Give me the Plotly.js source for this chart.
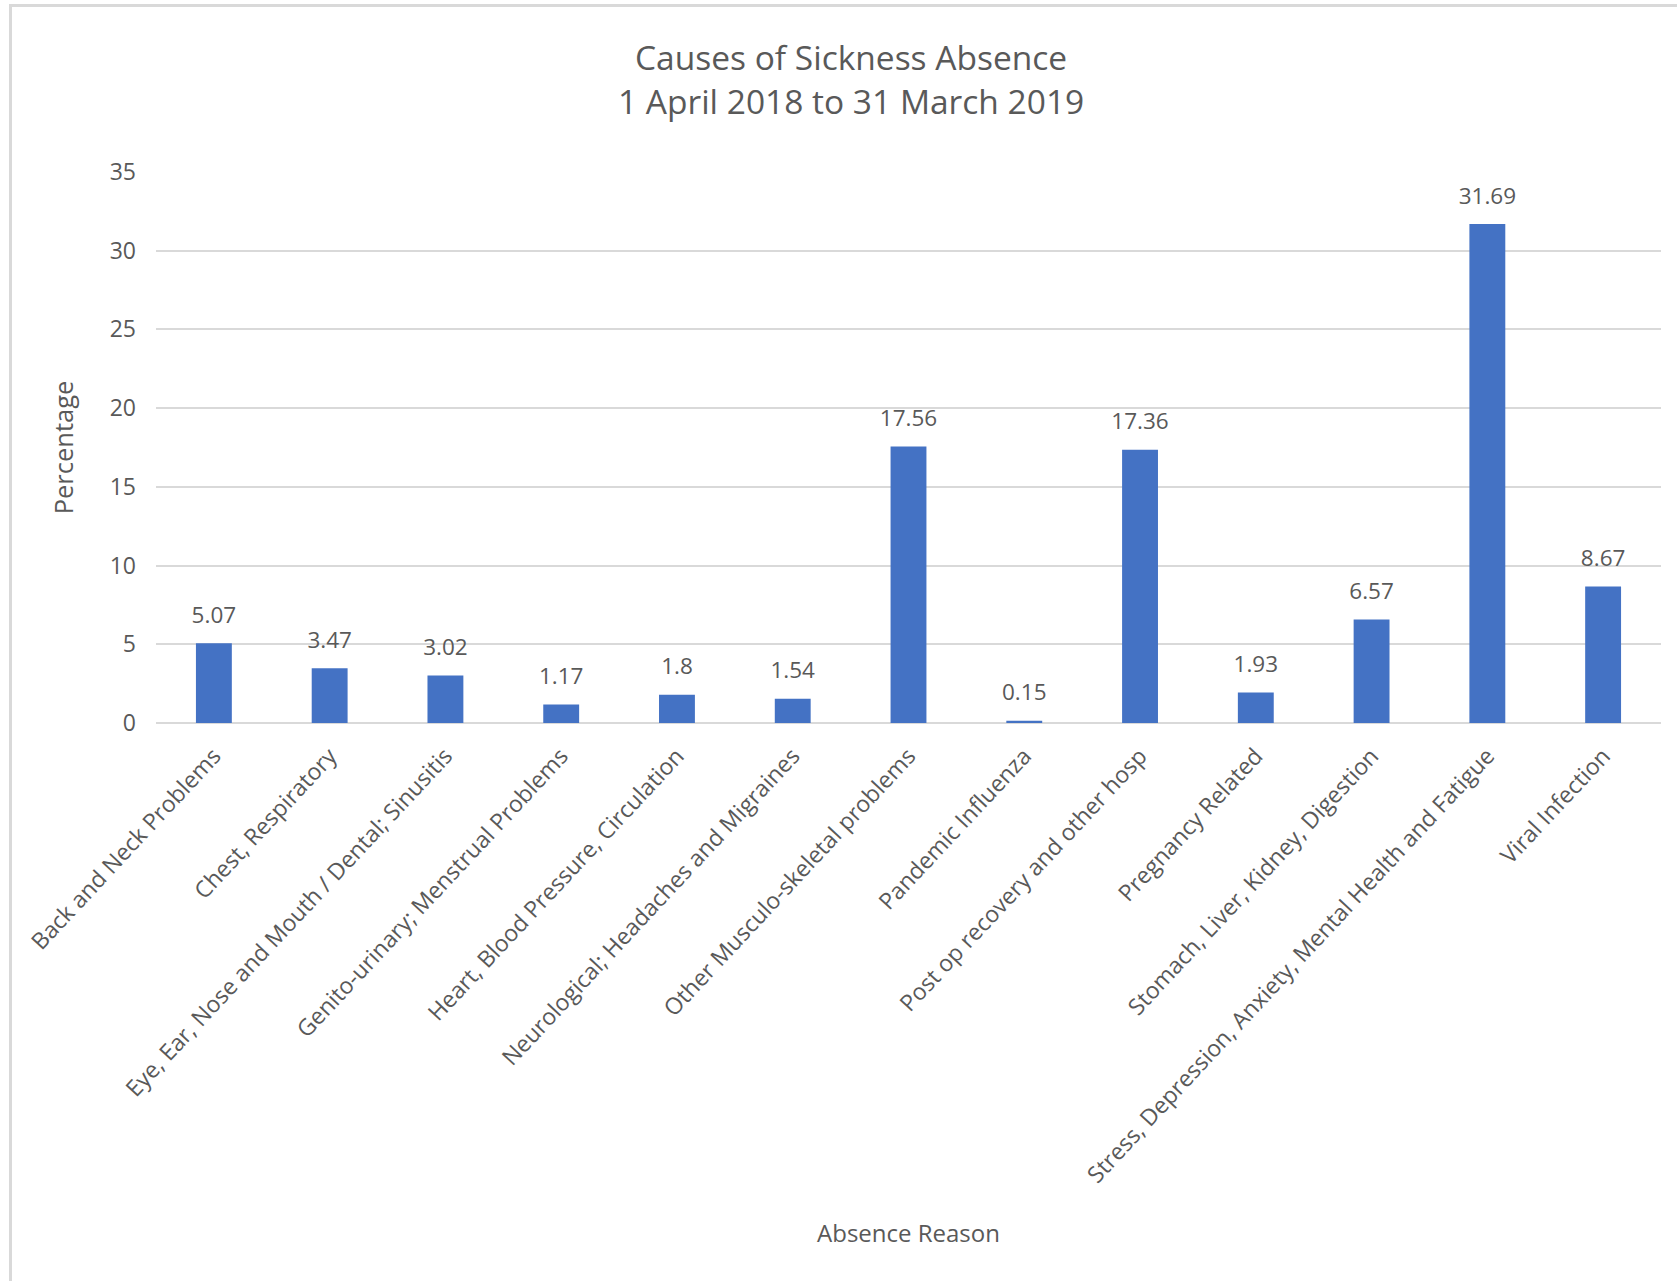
<!DOCTYPE html>
<html>
<head>
<meta charset="utf-8">
<script src="https://cdn.plot.ly/plotly-3.0.1.min.js"></script>
<style>
  html, body { margin: 0; padding: 0; background: #ffffff; }
  #wrap { position: relative; width: 1677px; height: 1281px; overflow: hidden; }
  #frame { position: absolute; left: 9px; top: 4px; width: 1700px; height: 1300px;
           border-left: 3px solid #d9d9d9; border-top: 3px solid #d9d9d9; box-sizing: border-box; pointer-events: none; }
  #chart { position: absolute; left: 0; top: 0; width: 1677px; height: 1281px; }
</style>
</head>
<body>
<div id="wrap">
  <div id="chart"></div>
  <div id="frame"></div>
</div>
<script>
const categories = [
  "Back and Neck Problems",
  "Chest, Respiratory",
  "Eye, Ear, Nose and Mouth / Dental; Sinusitis",
  "Genito-urinary; Menstrual Problems",
  "Heart, Blood Pressure, Circulation",
  "Neurological; Headaches and Migraines",
  "Other Musculo-skeletal problems",
  "Pandemic Influenza",
  "Post op recovery and other hosp",
  "Pregnancy Related",
  "Stomach, Liver, Kidney, Digestion",
  "Stress, Depression, Anxiety, Mental Health and Fatigue",
  "Viral Infection"
];
const percentages = [5.07, 3.47, 3.02, 1.17, 1.8, 1.54, 17.56, 0.15, 17.36, 1.93, 6.57, 31.69, 8.67];
const yTicks = [0, 5, 10, 15, 20, 25, 30, 35];

const textColor = "#595959";
const fontFamily = "'Open Sans', 'Noto Sans', sans-serif";

const bars = {
  type: "bar",
  x: categories,
  y: percentages,
  marker: { color: "#4472C4", line: { width: 0 } },
  hoverinfo: "skip",
  showlegend: false
};

const labels = {
  type: "scatter",
  mode: "markers+text",
  x: categories,
  y: percentages,
  text: percentages.map(v => String(v)),
  textposition: "top center",
  textfont: { family: fontFamily, size: 22.5, color: textColor },
  marker: { size: 22, color: "rgba(0,0,0,0)" },
  hoverinfo: "skip",
  showlegend: false,
  cliponaxis: false
};

const layout = {
  width: 1677,
  height: 1281,
  paper_bgcolor: "rgba(0,0,0,0)",
  plot_bgcolor: "#ffffff",
  margin: { l: 156, r: 16, t: 172, b: 558, autoexpand: false },
  bargap: 0.69,
  title: {
    text: "Causes of Sickness Absence<br>1 April 2018 to 31 March 2019",
    font: { family: fontFamily, size: 33.5, color: textColor },
    x: 0.5075,
    xanchor: "center",
    y: 0.945,
    yanchor: "top"
  },
  xaxis: {
    type: "category",
    range: [-0.5, categories.length - 0.5],
    tickangle: -47,
    tickfont: { family: fontFamily, size: 23, color: textColor },
    showgrid: false,
    showline: false,
    ticks: "",
    ticklabelstandoff: 14,
    automargin: false,
    title: {
      text: "Absence Reason",
      font: { family: fontFamily, size: 24, color: textColor },
      standoff: 37
    }
  },
  yaxis: {
    range: [0, 35],
    tickvals: yTicks,
    ticktext: yTicks.map(String),
    tickfont: { family: fontFamily, size: 23, color: textColor },
    showgrid: true,
    gridcolor: "#d9d9d9",
    gridwidth: 2,
    zeroline: true,
    zerolinecolor: "#d9d9d9",
    zerolinewidth: 2,
    showline: false,
    ticks: "",
    ticklabelstandoff: 19,
    automargin: false,
    title: {
      text: "Percentage",
      font: { family: fontFamily, size: 25.5, color: textColor },
      standoff: 28
    }
  }
};

Plotly.newPlot("chart", [bars, labels], layout, { staticPlot: true, displayModeBar: false });
</script>
</body>
</html>
